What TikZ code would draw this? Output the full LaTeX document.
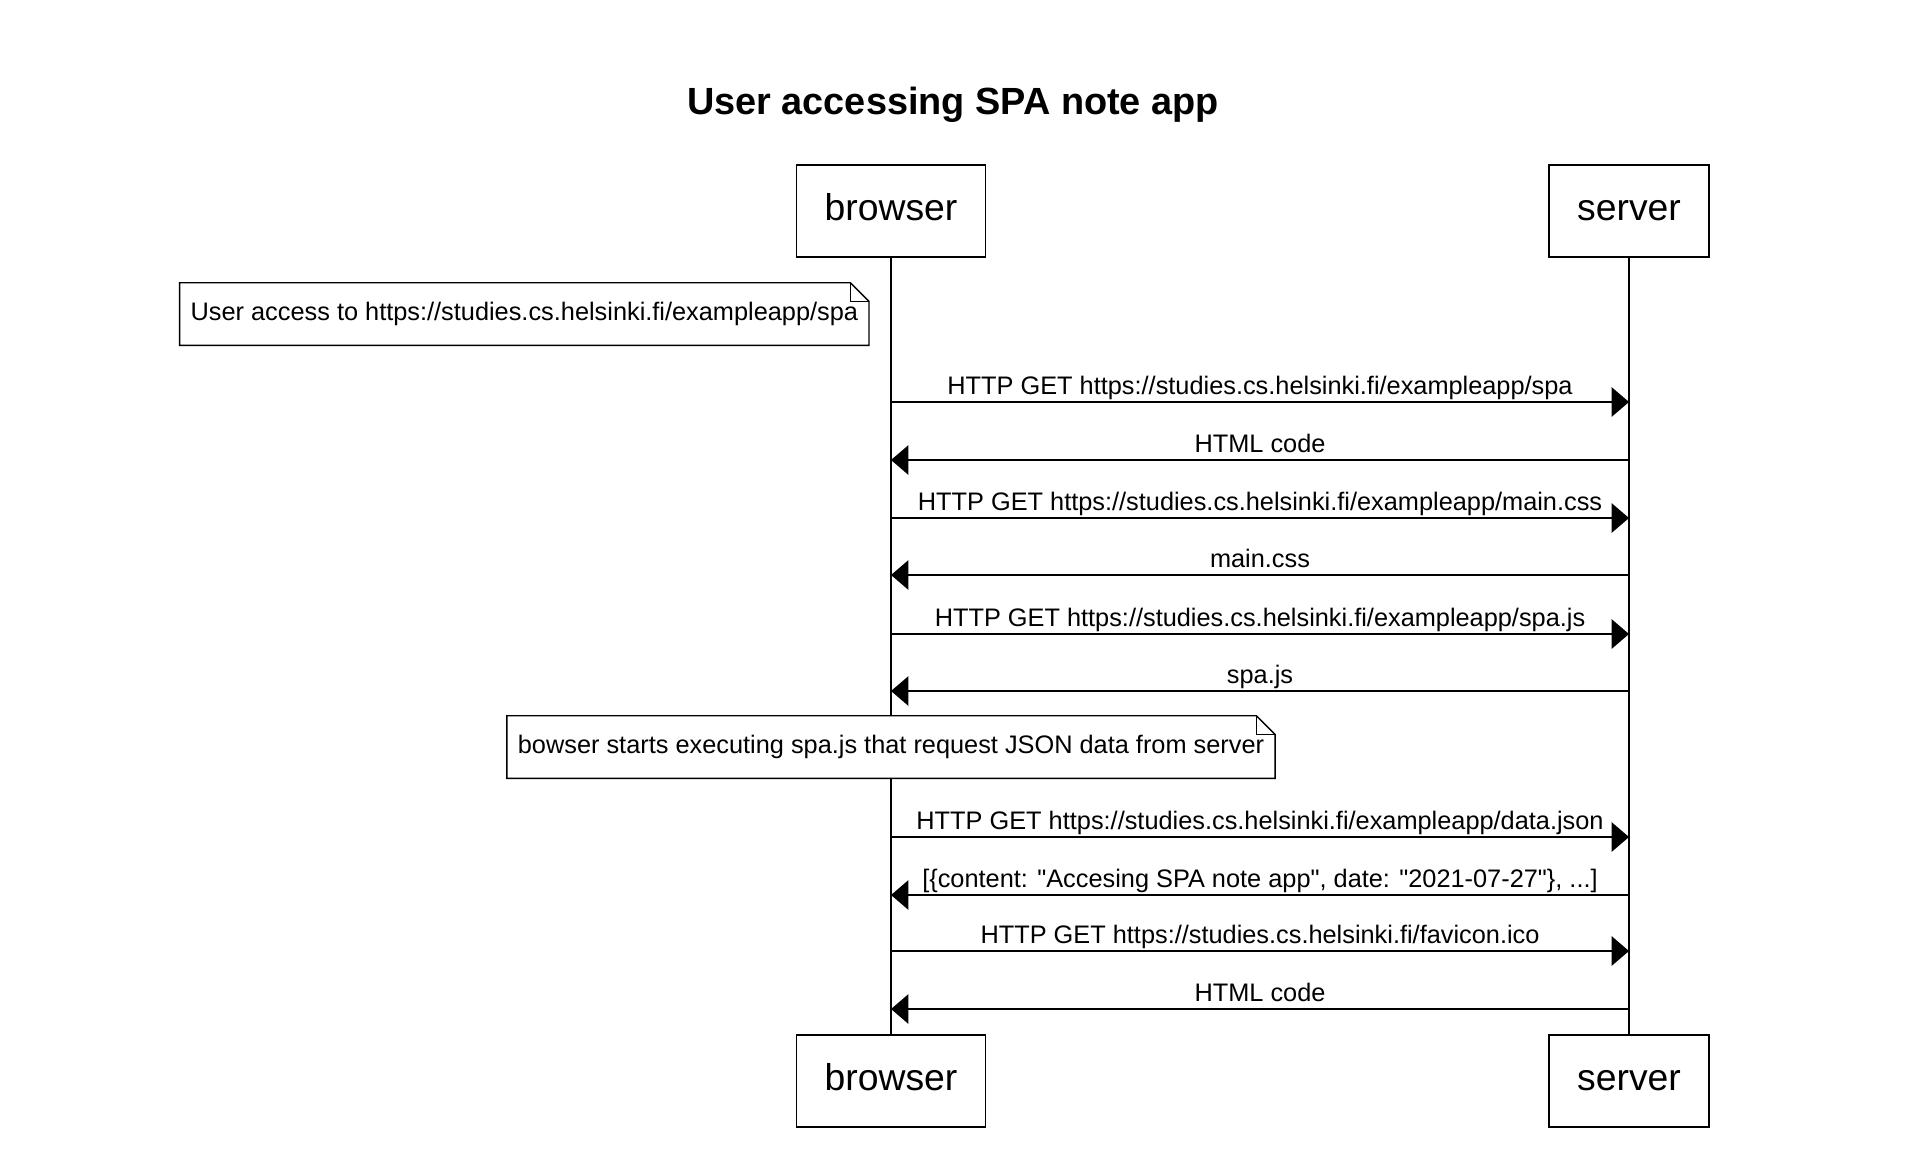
\documentclass[tikz,border=0pt]{standalone}
\usepackage{fontspec}
\setmainfont{Liberation Sans}
\usetikzlibrary{arrows.meta}

\tikzset{
	actor/.style = {draw, line width=1.2pt, fill=white, minimum height=69pt, inner xsep=21pt, text height=20pt, text depth=5.5pt, font=\fontsize{28}{32}\selectfont},
	life/.style = {line width=1.1pt},
	msg/.style = {line width=1.1pt, -{Triangle[length=13pt,width=22pt]}},
	lbl/.style = {pos=0.5, anchor=base, yshift=5.5pt, font=\fontsize{19}{22}\selectfont},
	note/.style = {fill=white, inner xsep=8pt, minimum height=46.5pt, text height=13.6pt, text depth=3.8pt, font=\fontsize{19}{22}\selectfont},
}
% outline of a note with its folded corner
\newcommand{\dogear}[1]{%
	\draw[line width=1.1pt] (#1.north west) -- ([xshift=-14pt]#1.north east) -- ([yshift=-14pt]#1.north east) -- (#1.south east) -- (#1.south west) -- cycle;
	\draw[line width=0.8pt] ([xshift=-14pt]#1.north east) |- ([yshift=-14pt]#1.north east);
}

\begin{document}
\begin{tikzpicture}[x=0.75pt, y=0.75pt]
	\useasboundingbox (0,0) rectangle (1930,-1150);
	\node[font=\fontsize{28.4}{32}\selectfont\bfseries] (ttl) at (953,-105) {User accessing SPA note app};
	% actors
	\node[actor] (bt) at (891,-211) {browser};
	\node[actor] (st) at (1629,-211) {server};
	\node[actor] (bb) at (891,-1081) {browser};
	\node[actor] (sb) at (1629,-1081) {server};
	\draw[life] (bt) -- (bb);
	\draw[life] (st) -- (sb);
	% notes
	\node[note, anchor=east] (n1) at (869,-314) {User access to https://studies.cs.helsinki.fi/exampleapp/spa};
	\dogear{n1}
	\node[note] (n2) at (891,-747) {bowser starts executing spa.js that request JSON data from server};
	\dogear{n2}
	% messages
	\foreach \y [count=\i] in {402,460,518,575,634,691,837,895,951,1009}{
		\coordinate (b\i) at (bt |- 0,-\y);
		\coordinate (s\i) at (st |- 0,-\y);
	}
	\draw[msg] (b1) -- node[lbl] {HTTP GET https://studies.cs.helsinki.fi/exampleapp/spa} (s1);
	\draw[msg] (s2) -- node[lbl] {HTML code} (b2);
	\draw[msg] (b3) -- node[lbl] {HTTP GET https://studies.cs.helsinki.fi/exampleapp/main.css} (s3);
	\draw[msg] (s4) -- node[lbl] {main.css} (b4);
	\draw[msg] (b5) -- node[lbl] {HTTP GET https://studies.cs.helsinki.fi/exampleapp/spa.js} (s5);
	\draw[msg] (s6) -- node[lbl] {spa.js} (b6);
	\draw[msg] (b7) -- node[lbl] {HTTP GET https://studies.cs.helsinki.fi/exampleapp/data.json} (s7);
	\draw[msg] (s8) -- node[lbl] {[\{content: \textquotedbl Accesing SPA note app\textquotedbl, date: \textquotedbl 2021-07-27\textquotedbl\}, ...]} (b8);
	\draw[msg] (b9) -- node[lbl] {HTTP GET https://studies.cs.helsinki.fi/favicon.ico} (s9);
	\draw[msg] (s10) -- node[lbl] {HTML code} (b10);
\end{tikzpicture}
\end{document}
